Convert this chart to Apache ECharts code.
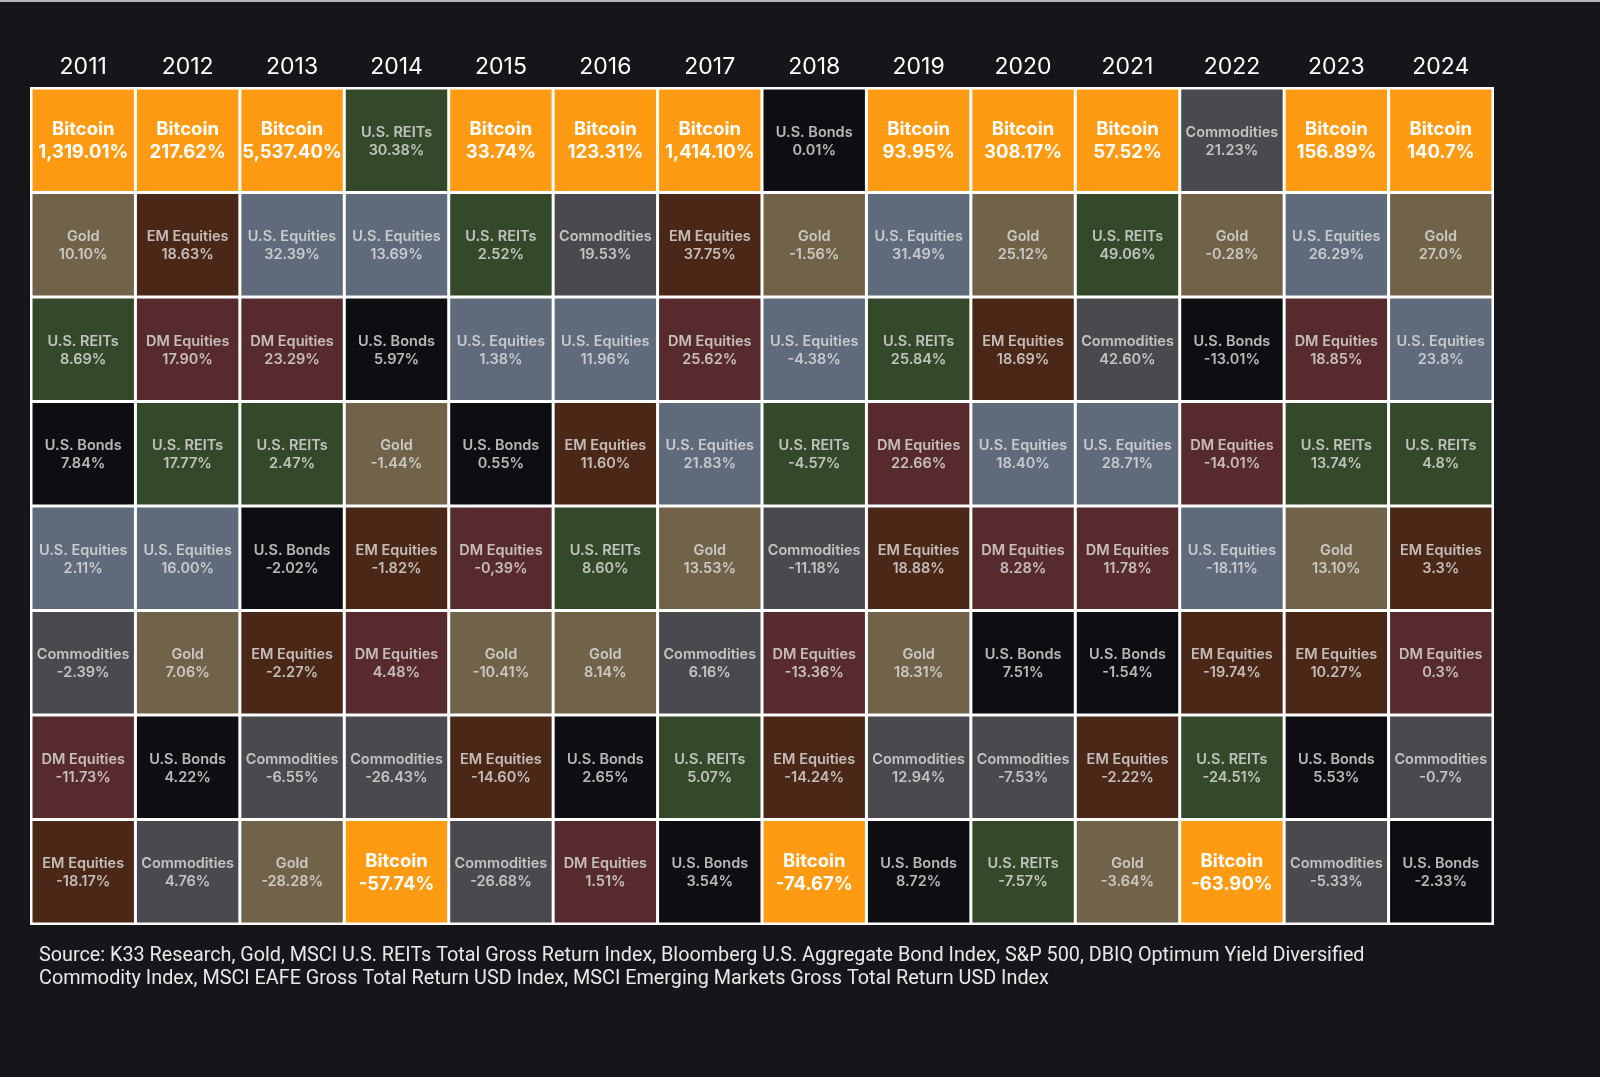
<!DOCTYPE html>
<html>
<head>
<meta charset="utf-8">
<title>Asset class returns 2011-2024</title>
<script src="https://cdn.jsdelivr.net/npm/echarts@6/dist/echarts.min.js"></script>
<style>
  html, body { margin: 0; padding: 0; background: #16161a; }
  #main { width: 1600px; height: 1077px; }
</style>
</head>
<body>
<div id="main"></div>
<script>
// years (columns) and ranks (rows, best at top)
var years = ['2011', '2012', '2013', '2014', '2015', '2016', '2017', '2018', '2019', '2020', '2021', '2022', '2023', '2024'];
var ranks = ['1', '2', '3', '4', '5', '6', '7', '8'];

// asset + return for each rank, one entry per year
var rank1Asset = ['Bitcoin', 'Bitcoin', 'Bitcoin', 'U.S. REITs', 'Bitcoin', 'Bitcoin', 'Bitcoin', 'U.S. Bonds', 'Bitcoin', 'Bitcoin', 'Bitcoin', 'Commodities', 'Bitcoin', 'Bitcoin'];
var rank1Return = ['1,319.01%', '217.62%', '5,537.40%', '30.38%', '33.74%', '123.31%', '1,414.10%', '0.01%', '93.95%', '308.17%', '57.52%', '21.23%', '156.89%', '140.7%'];

var rank2Asset = ['Gold', 'EM Equities', 'U.S. Equities', 'U.S. Equities', 'U.S. REITs', 'Commodities', 'EM Equities', 'Gold', 'U.S. Equities', 'Gold', 'U.S. REITs', 'Gold', 'U.S. Equities', 'Gold'];
var rank2Return = ['10.10%', '18.63%', '32.39%', '13.69%', '2.52%', '19.53%', '37.75%', '-1.56%', '31.49%', '25.12%', '49.06%', '-0.28%', '26.29%', '27.0%'];

var rank3Asset = ['U.S. REITs', 'DM Equities', 'DM Equities', 'U.S. Bonds', 'U.S. Equities', 'U.S. Equities', 'DM Equities', 'U.S. Equities', 'U.S. REITs', 'EM Equities', 'Commodities', 'U.S. Bonds', 'DM Equities', 'U.S. Equities'];
var rank3Return = ['8.69%', '17.90%', '23.29%', '5.97%', '1.38%', '11.96%', '25.62%', '-4.38%', '25.84%', '18.69%', '42.60%', '-13.01%', '18.85%', '23.8%'];

var rank4Asset = ['U.S. Bonds', 'U.S. REITs', 'U.S. REITs', 'Gold', 'U.S. Bonds', 'EM Equities', 'U.S. Equities', 'U.S. REITs', 'DM Equities', 'U.S. Equities', 'U.S. Equities', 'DM Equities', 'U.S. REITs', 'U.S. REITs'];
var rank4Return = ['7.84%', '17.77%', '2.47%', '-1.44%', '0.55%', '11.60%', '21.83%', '-4.57%', '22.66%', '18.40%', '28.71%', '-14.01%', '13.74%', '4.8%'];

var rank5Asset = ['U.S. Equities', 'U.S. Equities', 'U.S. Bonds', 'EM Equities', 'DM Equities', 'U.S. REITs', 'Gold', 'Commodities', 'EM Equities', 'DM Equities', 'DM Equities', 'U.S. Equities', 'Gold', 'EM Equities'];
var rank5Return = ['2.11%', '16.00%', '-2.02%', '-1.82%', '-0,39%', '8.60%', '13.53%', '-11.18%', '18.88%', '8.28%', '11.78%', '-18.11%', '13.10%', '3.3%'];

var rank6Asset = ['Commodities', 'Gold', 'EM Equities', 'DM Equities', 'Gold', 'Gold', 'Commodities', 'DM Equities', 'Gold', 'U.S. Bonds', 'U.S. Bonds', 'EM Equities', 'EM Equities', 'DM Equities'];
var rank6Return = ['-2.39%', '7.06%', '-2.27%', '4.48%', '-10.41%', '8.14%', '6.16%', '-13.36%', '18.31%', '7.51%', '-1.54%', '-19.74%', '10.27%', '0.3%'];

var rank7Asset = ['DM Equities', 'U.S. Bonds', 'Commodities', 'Commodities', 'EM Equities', 'U.S. Bonds', 'U.S. REITs', 'EM Equities', 'Commodities', 'Commodities', 'EM Equities', 'U.S. REITs', 'U.S. Bonds', 'Commodities'];
var rank7Return = ['-11.73%', '4.22%', '-6.55%', '-26.43%', '-14.60%', '2.65%', '5.07%', '-14.24%', '12.94%', '-7.53%', '-2.22%', '-24.51%', '5.53%', '-0.7%'];

var rank8Asset = ['EM Equities', 'Commodities', 'Gold', 'Bitcoin', 'Commodities', 'DM Equities', 'U.S. Bonds', 'Bitcoin', 'U.S. Bonds', 'U.S. REITs', 'Gold', 'Bitcoin', 'Commodities', 'U.S. Bonds'];
var rank8Return = ['-18.17%', '4.76%', '-28.28%', '-57.74%', '-26.68%', '1.51%', '3.54%', '-74.67%', '8.72%', '-7.57%', '-3.64%', '-63.90%', '-5.33%', '-2.33%'];

var sourceNote = 'Source: K33 Research, Gold, MSCI U.S. REITs Total Gross Return Index, Bloomberg U.S. Aggregate Bond Index, S&P 500, DBIQ Optimum Yield Diversified\nCommodity Index, MSCI EAFE Gross Total Return USD Index, MSCI Emerging Markets Gross Total Return USD Index';

// colour per asset class
var assetColors = {
  'Bitcoin': '#ff9b12',
  'Gold': '#716349',
  'EM Equities': '#4a2716',
  'DM Equities': '#572a2d',
  'U.S. REITs': '#34492a',
  'U.S. Equities': '#5f6a7a',
  'Commodities': '#49494e',
  'U.S. Bonds': '#0e0e12'
};

var rankAssets = [rank1Asset, rank2Asset, rank3Asset, rank4Asset, rank5Asset, rank6Asset, rank7Asset, rank8Asset];
var rankReturns = [rank1Return, rank2Return, rank3Return, rank4Return, rank5Return, rank6Return, rank7Return, rank8Return];

var cells = [];
for (var r = 0; r < ranks.length; r++) {
  for (var c = 0; c < years.length; c++) {
    cells.push({ value: [c, r], asset: rankAssets[r][c], ret: rankReturns[r][c] });
  }
}

var myChart = echarts.init(document.getElementById('main'));

function renderCell(params, api) {
  var cell = cells[params.dataIndex];
  var p = api.coord([api.value(0), api.value(1)]);
  var s = api.size([1, 1]);
  var gap = 1.5;
  var isBtc = cell.asset === 'Bitcoin';
  return {
    type: 'group',
    children: [{
      type: 'rect',
      shape: { x: p[0] - s[0] / 2 + gap, y: p[1] - s[1] / 2 + gap, width: s[0] - gap * 2, height: s[1] - gap * 2 },
      style: { fill: assetColors[cell.asset] }
    }, {
      type: 'text',
      style: {
        text: cell.asset + '\n' + cell.ret,
        x: p[0],
        y: p[1] + 1,
        align: 'center',
        verticalAlign: 'middle',
        fontFamily: 'Inter',
        fontSize: isBtc ? 18.5 : 14.5,
        fontWeight: isBtc ? 700 : 600,
        lineHeight: isBtc ? 23 : 18,
        fill: isBtc ? '#ffffff' : 'rgba(226,226,226,0.8)'
      }
    }]
  };
}

var option = {
  backgroundColor: '#16161a',
  grid: {
    left: 31,
    right: 107,
    top: 88,
    bottom: 153,
    show: true,
    backgroundColor: '#ffffff',
    borderColor: '#ffffff',
    borderWidth: 2
  },
  xAxis: {
    type: 'category',
    data: years,
    position: 'top',
    axisLine: { show: false },
    axisTick: { show: false },
    splitLine: { show: false },
    axisLabel: {
      color: '#ffffff',
      fontFamily: 'Inter',
      fontSize: 23,
      margin: 9
    }
  },
  yAxis: {
    type: 'category',
    data: ranks,
    inverse: true,
    show: false
  },
  graphic: [{
    type: 'rect',
    left: 0,
    top: 0,
    shape: { width: 1600, height: 2 },
    style: { fill: '#b8b8bc' }
  }, {
    type: 'text',
    left: 39,
    top: 945,
    style: {
      text: sourceNote,
      fill: '#e8e8ea',
      fontFamily: 'Roboto',
      fontSize: 19.8,
      lineHeight: 23
    }
  }],
  series: [{
    type: 'custom',
    renderItem: renderCell,
    data: cells,
    animation: false
  }]
};

myChart.setOption(option);
</script>
</body>
</html>
